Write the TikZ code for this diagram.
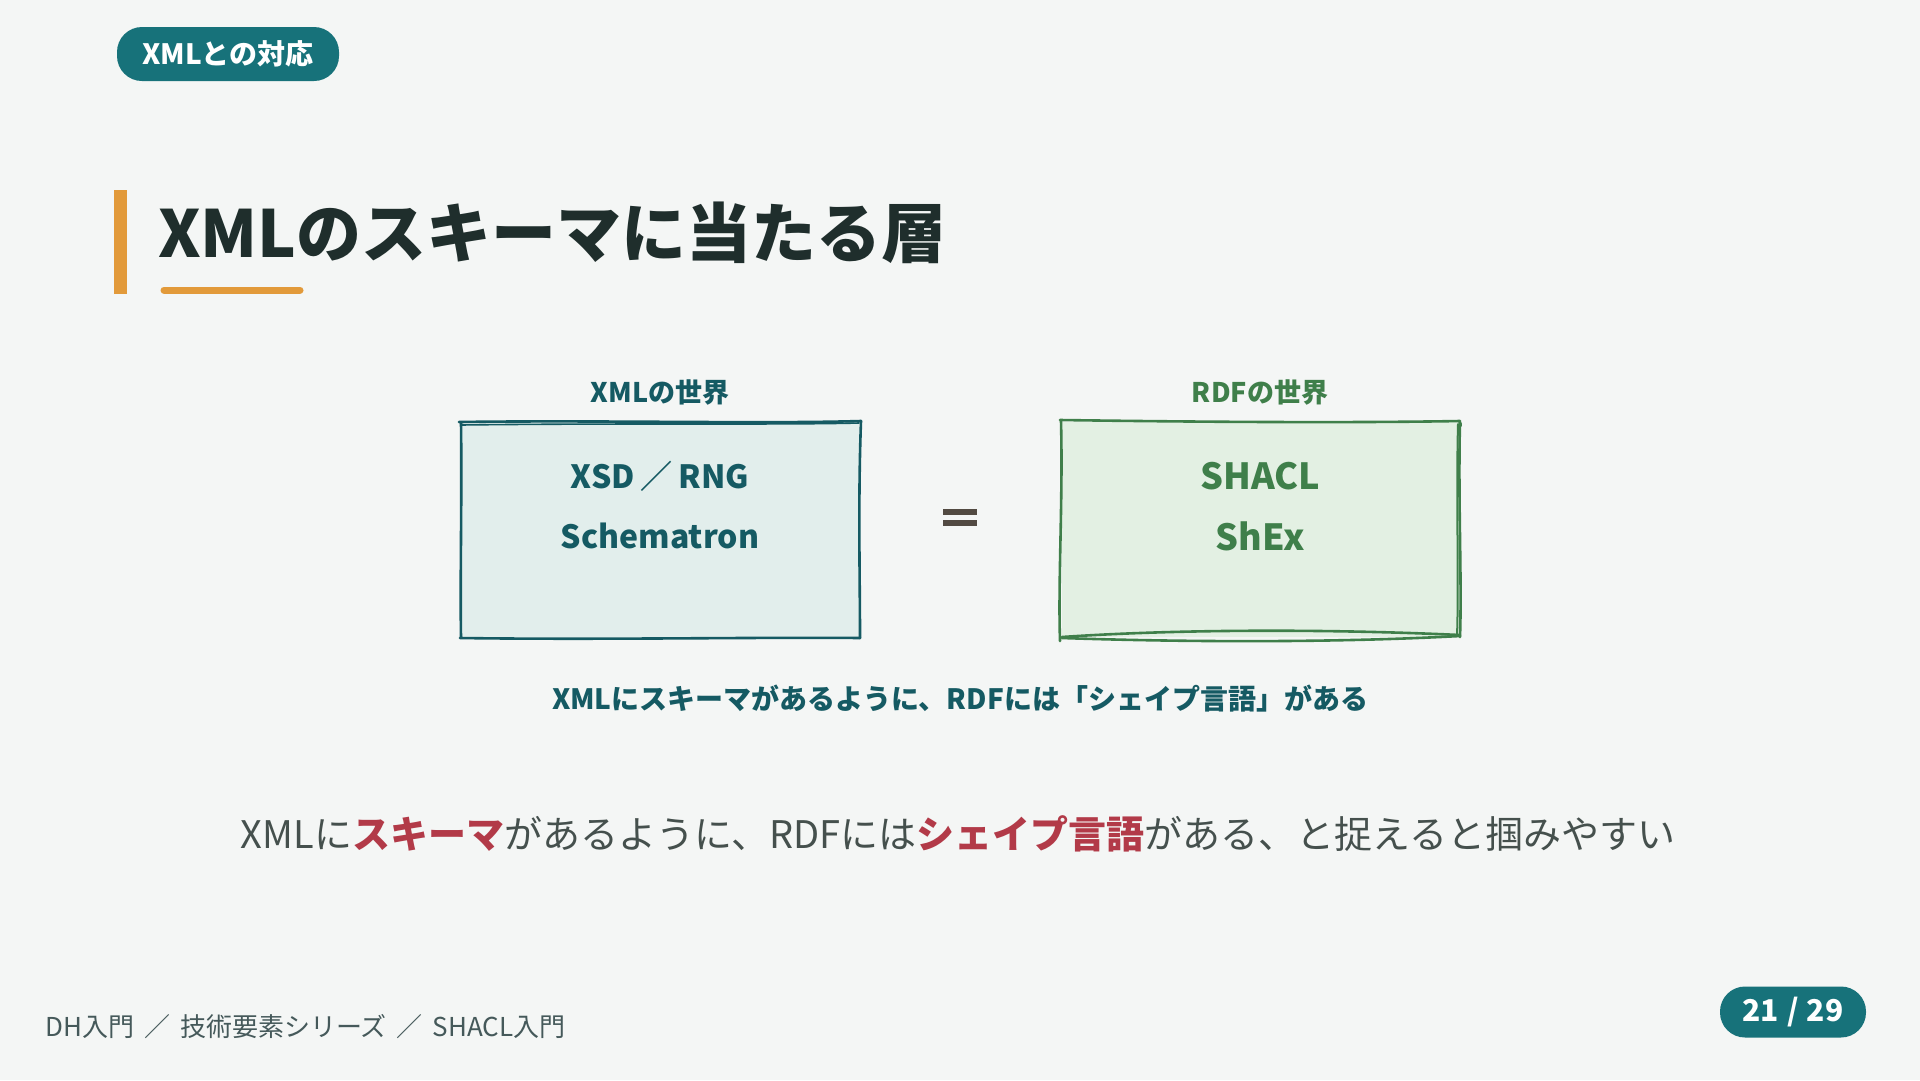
\documentclass[tikz,border=0pt]{standalone}
\usepackage{fontspec}
\setmainfont{Noto Sans CJK JP}
\definecolor{bg}{HTML}{F4F6F5}
\definecolor{teal}{HTML}{17727A}
\definecolor{titlec}{HTML}{1F2E2C}
\definecolor{orangec}{HTML}{E29A3A}
\definecolor{xmlc}{HTML}{155A63}
\definecolor{xmlfill}{HTML}{E2EEEC}
\definecolor{rdfc}{HTML}{3F7F4A}
\definecolor{rdffill}{HTML}{E3F0E3}
\definecolor{redc}{HTML}{B23A48}
\definecolor{bodyc}{HTML}{45504D}
\definecolor{footc}{HTML}{45595A}
\definecolor{eqc}{HTML}{524A42}
\tikzset{
  pill/.style={fill=teal, text=white, rounded corners=25pt, inner sep=0pt, font=\bfseries\fontsize{28}{30}\selectfont},
  sketch/.style={line width=2.6pt, line cap=round, line join=round},
}
\begin{document}
\begin{tikzpicture}[x=1pt,y=-1pt]
\path[fill=bg] (0,0) rectangle (1920,1080);
\useasboundingbox (0,0) rectangle (1920,1080);

% top pill
\node[pill, minimum width=222pt, minimum height=54pt] (tag) at (228,54) {XMLとの対応};

% title
\fill[orangec] (114,190) rectangle (127,294);
\node[anchor=west, text=titlec, inner sep=0pt, font=\bfseries\fontsize{65}{70}\selectfont] (title) at (158,233) {XMLのスキーマに当たる層};
\draw[orangec, line width=7pt, line cap=round] (164,290) -- (300,290);

% left box
\fill[xmlfill] (461,422) rectangle (859,637);
\draw[sketch, xmlc] (459,422) .. controls (600,420) and (760,424) .. (861,421);
\draw[sketch, xmlc, line width=1.6pt] (461,425) .. controls (620,423) and (780,425) .. (859,423);
\draw[sketch, xmlc] (861,421) .. controls (858,500) and (860,580) .. (860,638);
\draw[sketch, xmlc] (460,638) .. controls (600,640) and (760,637) .. (860,638);
\draw[sketch, xmlc] (461,423) .. controls (462,500) and (460,580) .. (461,637);
\node[font=\bfseries\fontsize{27}{30}\selectfont, text=xmlc] (xmllab) at (660,392) {XMLの世界};
\node[font=\bfseries\fontsize{32}{34}\selectfont, text=xmlc] (xsd) at (660,476) {XSD\hspace{6pt}／\hspace{6pt}RNG};
\node[font=\bfseries\fontsize{32}{34}\selectfont, text=xmlc] (sch) at (660,536) {Schematron};

% equals
\node[inner sep=0pt] (eq) at (960,517) {};
\fill[eqc] (943,509) rectangle (977,515);
\fill[eqc] (943,520) rectangle (977,526);

% right box
\fill[rdffill] (1062,422) rectangle (1460,637);
\draw[sketch, rdfc] (1060,420) .. controls (1200,422) and (1350,423) .. (1460,421);
\draw[sketch, rdfc, line width=1.6pt] (1458,421) .. controls (1461,423) and (1462,424) .. (1461,426);
\draw[sketch, rdfc] (1460,422) .. controls (1458,500) and (1462,580) .. (1460,637);
\draw[sketch, rdfc, line width=2pt] (1458,424) .. controls (1456,500) and (1459,580) .. (1457,636);
\draw[sketch, rdfc] (1061,421) .. controls (1063,500) and (1058,580) .. (1060,641);
\draw[sketch, rdfc] (1062,637) .. controls (1180,629) and (1330,629) .. (1460,635);
\draw[sketch, rdfc] (1062,638) .. controls (1180,642) and (1330,643) .. (1460,636);
\node[font=\bfseries\fontsize{27}{30}\selectfont, text=rdfc] (rdflab) at (1260,392) {RDFの世界};
\node[font=\bfseries\fontsize{36}{38}\selectfont, text=rdfc] (shacl) at (1260,476) {SHACL};
\node[font=\bfseries\fontsize{36}{38}\selectfont, text=rdfc] (shex) at (1260,536) {ShEx};

% caption
\node[font=\bfseries\fontsize{28}{32}\selectfont, text=xmlc] (cap) at (960,699) {XMLにスキーマがあるように、RDFには「シェイプ言語」がある};

% main sentence
\node[font=\fontsize{38}{42}\selectfont, text=bodyc] (body) at (958,834) {XMLに\textcolor{redc}{\bfseries スキーマ}があるように、RDFには\textcolor{redc}{\bfseries シェイプ言語}がある、と捉えると掴みやすい};

% footer
\node[anchor=west, inner sep=0pt, font=\fontsize{26}{28}\selectfont, text=footc] (foot) at (45,1027) {DH入門\hspace{10pt}／\hspace{10pt}技術要素シリーズ\hspace{10pt}／\hspace{10pt}SHACL入門};
\node[pill, minimum width=146pt, minimum height=51pt, font=\bfseries\fontsize{30}{32}\selectfont] (page) at (1793,1012) {21\kern8pt/\kern8pt29};
\end{tikzpicture}
\end{document}
